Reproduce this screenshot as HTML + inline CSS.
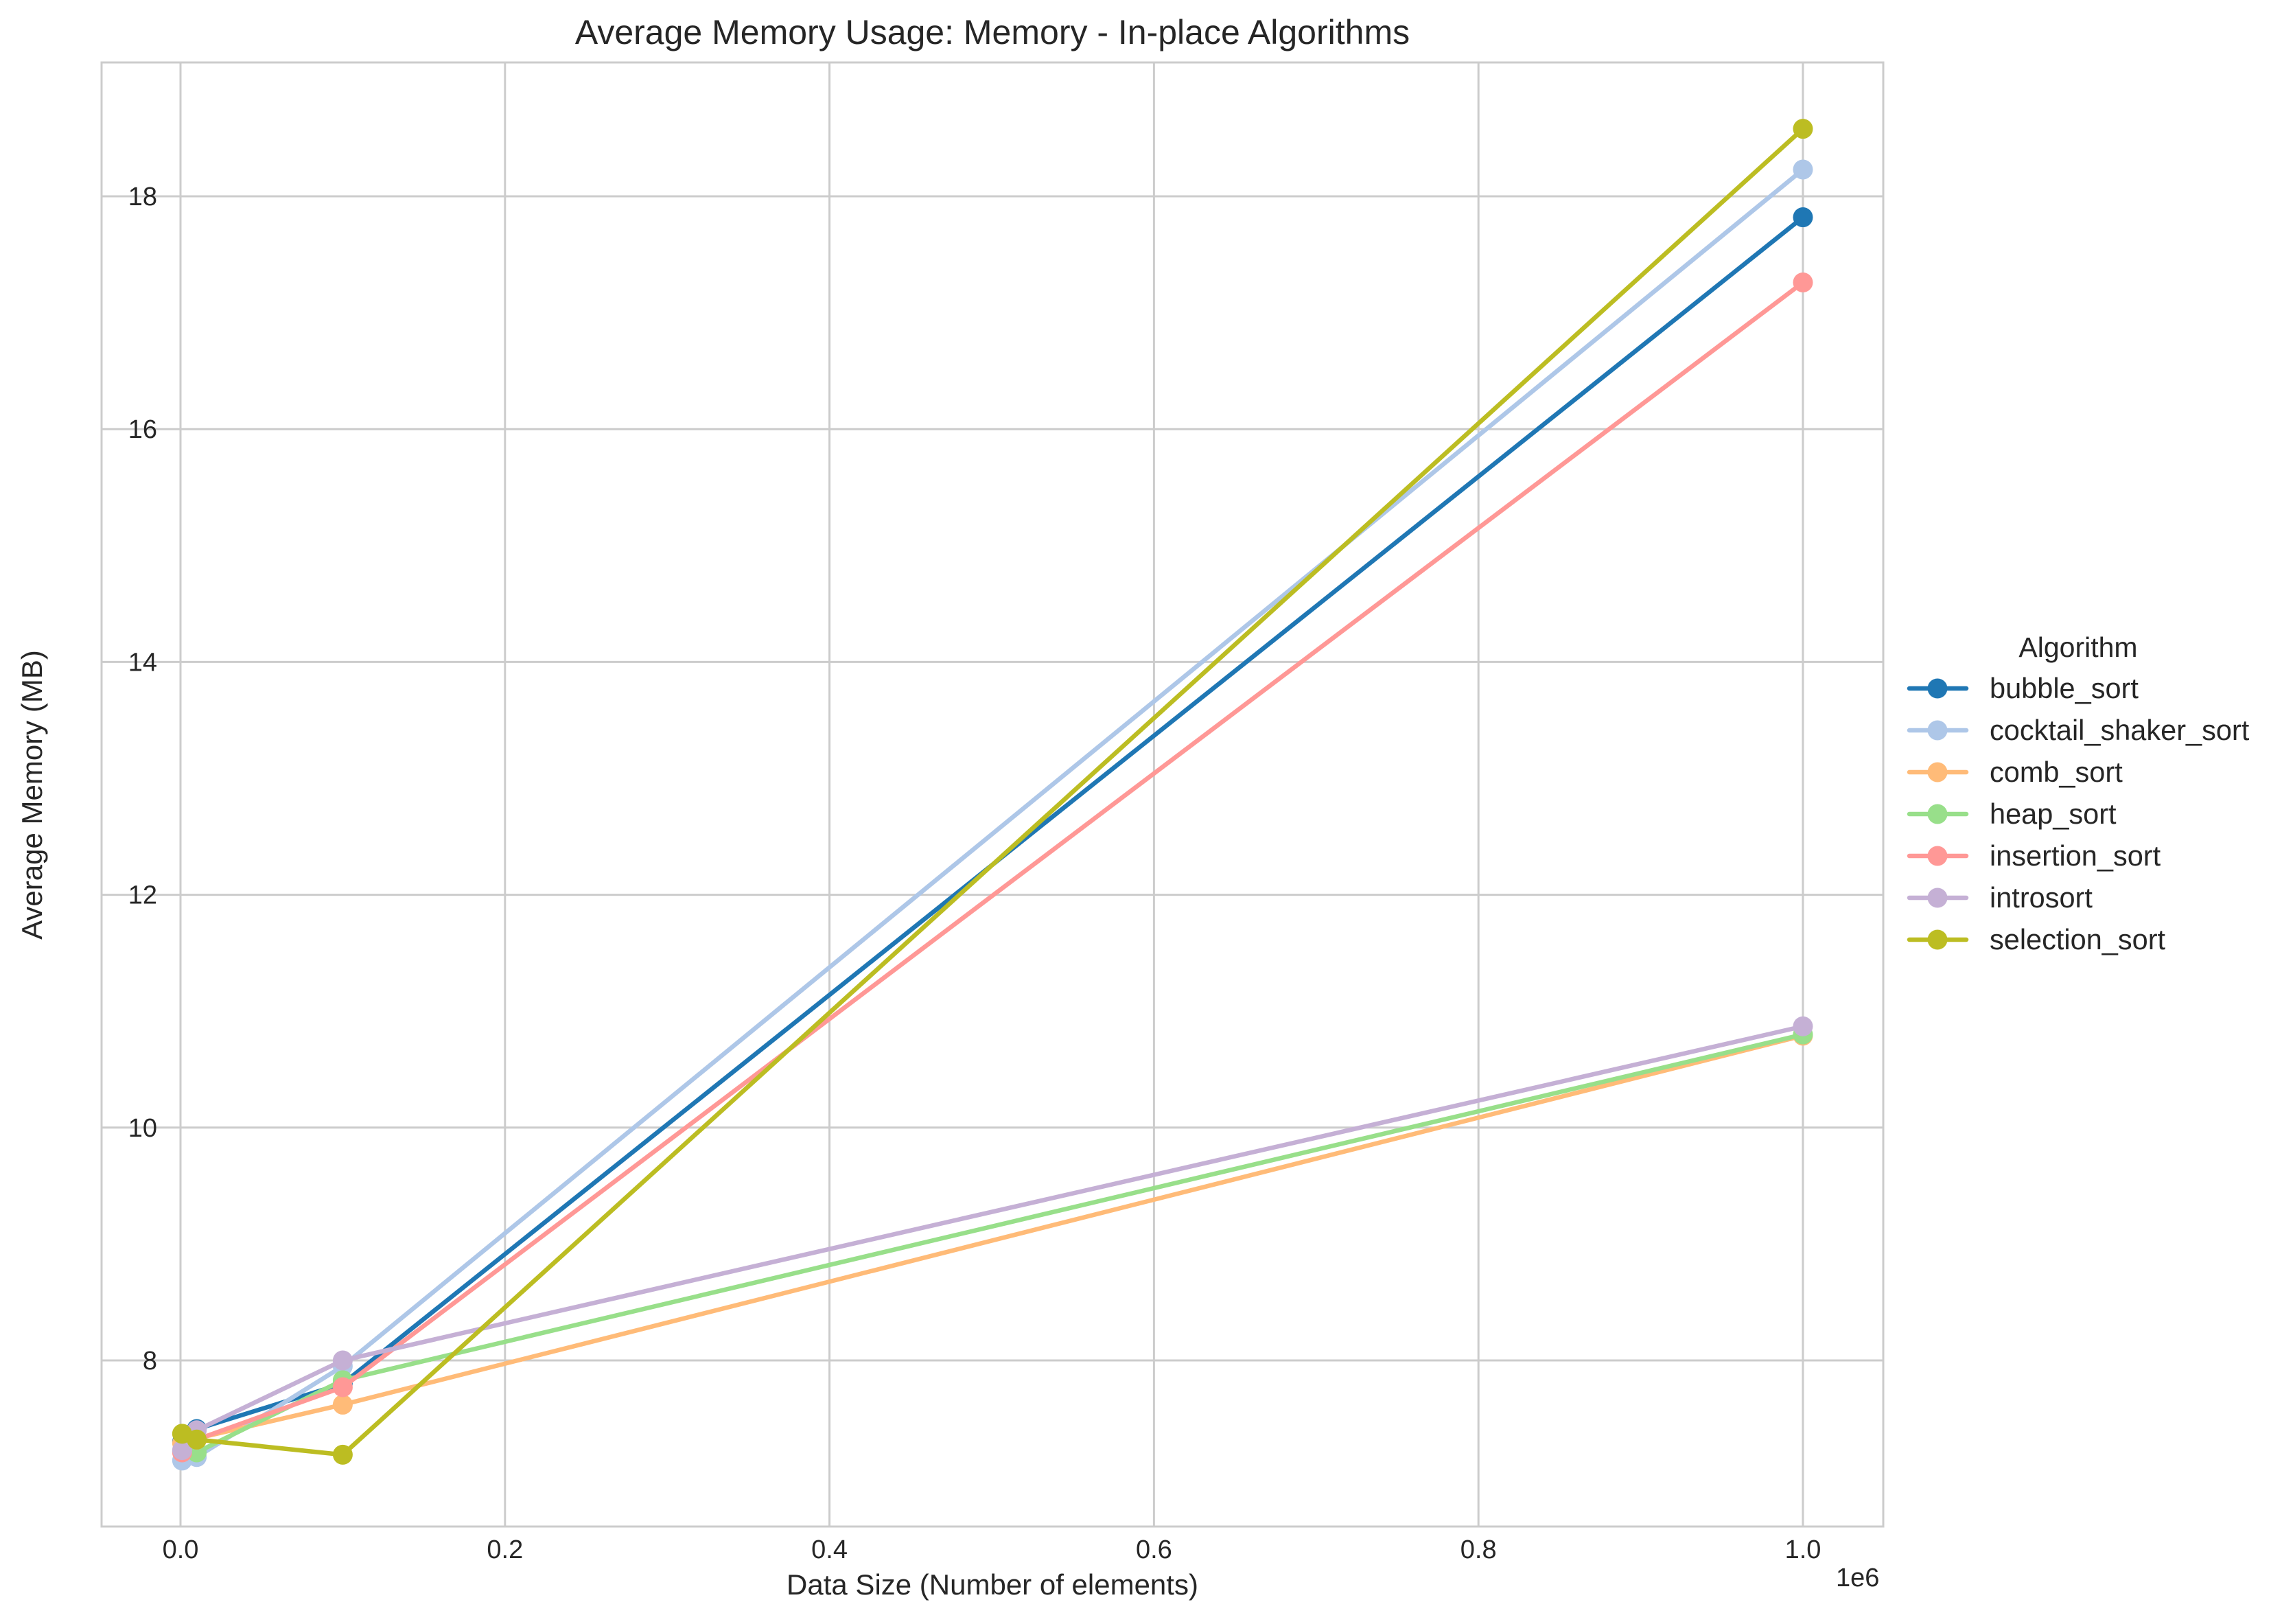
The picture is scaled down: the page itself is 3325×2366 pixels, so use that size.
<!DOCTYPE html>
<html><head><meta charset="utf-8"><style>
html,body{margin:0;padding:0;background:#fff;}
svg{display:block;font-family:"Liberation Sans",sans-serif;}
</style></head><body>
<svg id="chart" width="3325" height="2366" viewBox="0 0 3325 2366" xmlns="http://www.w3.org/2000/svg">
<rect width="3325" height="2366" fill="#fff"/>
<g id="grid"></g>
<g id="series"></g>
<g id="axes"></g>
<g id="legend"></g>
</svg>
<script>
const sizes = [1000, 10000, 100000, 1000000];
const names = ["bubble_sort","cocktail_shaker_sort","comb_sort","heap_sort","insertion_sort","introsort","selection_sort"];
const colors = ["#1f77b4","#aec7e8","#ffbb78","#98df8a","#ff9896","#c5b0d5","#bcbd22"];
const bubbleSort = [7.30, 7.41, 7.80, 17.82];
const cocktailSort = [7.14, 7.17, 7.95, 18.23];
const combSort = [7.29, 7.33, 7.62, 10.79];
const heapSort = [7.22, 7.21, 7.83, 10.80];
const insertionSort = [7.21, 7.32, 7.77, 17.26];
const introSort = [7.23, 7.40, 8.00, 10.87];
const selectionSort = [7.37, 7.32, 7.19, 18.58];
const seriesValues = [bubbleSort, cocktailSort, combSort, heapSort, insertionSort, introSort, selectionSort];
const xTicks = [0, 200000, 400000, 600000, 800000, 1000000];
const xTickLabels = ["0.0","0.2","0.4","0.6","0.8","1.0"];
const yTicks = [8, 10, 12, 14, 16, 18];
const yTickLabels = ["8","10","12","14","16","18"];

const L=148, R=2744, T=91, B=2224;
const xMin=-48650, xMax=1049500, yMin=6.573, yMax=19.15;
const xs = v => L + (v - xMin) / (xMax - xMin) * (R - L);
const ys = v => B - (v - yMin) / (yMax - yMin) * (B - T);
const NS="http://www.w3.org/2000/svg";
function mk(tag, attrs, parent, text){
  const e=document.createElementNS(NS,tag);
  for(const k in attrs) e.setAttribute(k, attrs[k]);
  if(text!==undefined) e.textContent=text;
  parent.appendChild(e); return e;
}
const grid=document.getElementById('grid'), axes=document.getElementById('axes'),
      ser=document.getElementById('series'), leg=document.getElementById('legend');

xTicks.forEach((t,i)=>{
  const x=xs(t);
  const g=mk('line',{x1:x,x2:x,y1:T,y2:B,stroke:'#cccccc','stroke-width':3},grid);
  
  
  const lb=mk('text',{x:x,y:2270,'text-anchor':'middle','font-size':38,fill:'#262626'},axes,xTickLabels[i]);
  
  
});
yTicks.forEach((t,i)=>{
  const y=ys(t);
  const g=mk('line',{x1:L,x2:R,y1:y,y2:y,stroke:'#cccccc','stroke-width':3},grid);
  
  
  const lb=mk('text',{x:229,y:y+13,'text-anchor':'end','font-size':38,fill:'#262626'},axes,yTickLabels[i]);
  
  
});
const frame=mk('rect',{x:L,y:T,width:R-L,height:B-T,fill:'none',stroke:'#cccccc','stroke-width':3},axes);



seriesValues.forEach((vals,si)=>{
  const g=mk('g',{},ser);
  
  
  const pts=vals.map((v,i)=>xs(sizes[i])+','+ys(v)).join(' ');
  const pl=mk('polyline',{points:pts,fill:'none',stroke:colors[si],'stroke-width':6.5,'stroke-linejoin':'round','stroke-linecap':'round'},g);
  
  
  vals.forEach((v,i)=>{
    const c=mk('circle',{cx:xs(sizes[i]),cy:ys(v),r:14.5,fill:colors[si]},g);
    
    
  });
});

const lt=mk('text',{x:3028,y:957,'text-anchor':'middle','font-size':41,fill:'#262626'},leg,'Algorithm');


names.forEach((n,i)=>{
  const y=1003+i*61;
  const g=mk('g',{},leg);
  
  
  mk('line',{x1:2782,x2:2865,y1:y,y2:y,stroke:colors[i],'stroke-width':6.5,'stroke-linecap':'round'},g);
  mk('circle',{cx:2823,cy:y,r:14.5,fill:colors[i]},g);
  mk('text',{x:2899,y:y+14,'font-size':41.5,fill:'#262626'},g,n);
});
</script>
<div style="position:absolute;left:0;top:0;width:3325px;height:2366px;pointer-events:none;font-family:'Liberation Sans',sans-serif;color:#262626;">
  <div style="position:absolute;left:0;width:2892px;top:18px;text-align:center;font-size:50px;">Average Memory Usage: Memory - In-place Algorithms</div>
  <div style="position:absolute;left:148px;width:2596px;top:2285px;text-align:center;font-size:42px;">Data Size (Number of elements)</div>
  <div style="position:absolute;left:2675px;top:2278px;font-size:38px;">1e6</div>
  <div style="position:absolute;left:47px;top:1158px;font-size:42px;white-space:nowrap;transform:translate(-50%,-50%) rotate(-90deg);">Average Memory (MB)</div>
</div>
</body></html>
